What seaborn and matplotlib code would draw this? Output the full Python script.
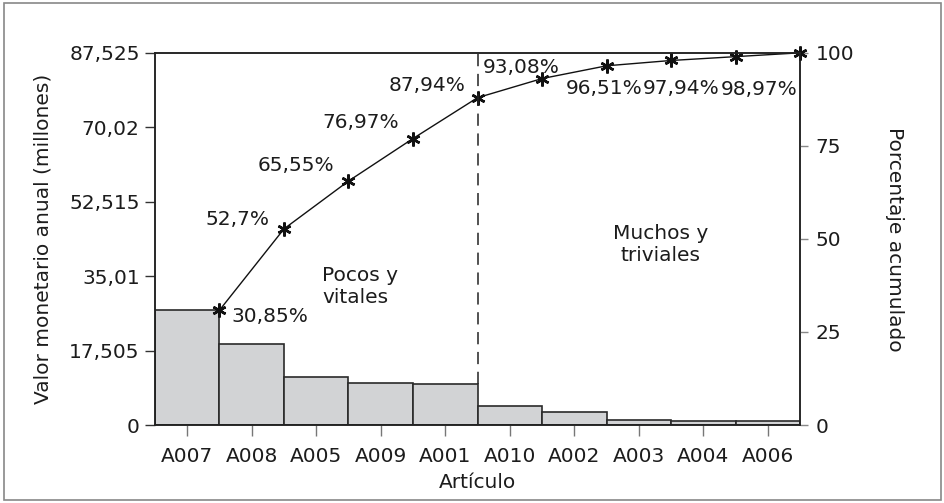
import matplotlib
matplotlib.use("Agg")
import matplotlib.pyplot as plt
import matplotlib.patches as mpatches
import matplotlib.ticker as mticker
import numpy as np
import pandas as pd
import seaborn as sns

# Pareto data: annual monetary value per item (millions) and cumulative share
articulos = ["A007", "A008", "A005", "A009", "A001", "A010", "A002", "A003", "A004", "A006"]
valor_anual = [27.00, 19.12, 11.25, 10.00, 9.60, 4.50, 3.00, 1.25, 0.90, 0.90]
porcentaje_acumulado = [30.85, 52.70, 65.55, 76.97, 87.94, 93.08, 96.51, 97.94, 98.97, 100.0]
etiquetas_pct = ["30,85%", "52,7%", "65,55%", "76,97%", "87,94%", "93,08%",
                 "96,51%", "97,94%", "98,97%", ""]
ticks_valor = [0, 17.505, 35.01, 52.515, 70.02, 87.525]
ticks_pct = [0, 25, 50, 75, 100]

sns.set_style("ticks")
TXT = "#1c1c1c"
plt.rcParams["font.family"] = ["DejaVu Sans"]
plt.rcParams.update({"axes.edgecolor": "#222222", "text.color": TXT,
                     "axes.labelcolor": TXT, "xtick.labelcolor": TXT,
                     "ytick.labelcolor": TXT})
FS = 14.5

fig = plt.figure(figsize=(9.45, 5.03), dpi=100)
fig.patches.append(mpatches.Rectangle((0.004, 0.006), 0.992, 0.988, transform=fig.transFigure,
                                      fill=False, edgecolor="#888888", linewidth=1.2))
ax = fig.add_axes([0.164, 0.155, 0.6826, 0.740])

df = pd.DataFrame({"articulo": articulos, "valor": valor_anual})
sns.barplot(data=df, x="articulo", y="valor", ax=ax, color="#d2d3d5", width=1.0,
            edgecolor="#2a2a2a", linewidth=1.2, saturation=1)

ax.set_xlim(-0.5, len(articulos) - 0.5)
ax.set_ylim(0, ticks_valor[-1])
ax.set_yticks(ticks_valor)
ax.yaxis.set_major_formatter(mticker.FuncFormatter(
    lambda v, _: ("%g" % round(v, 3)).replace(".", ",")))
ax.set_xlabel("Artículo", fontsize=FS, labelpad=5)
ax.set_ylabel("Valor monetario anual (millones)", fontsize=FS, labelpad=12)
ax.tick_params(axis="y", labelsize=FS, length=7, width=1, color="#333333", pad=4)
ax.tick_params(axis="x", labelsize=FS, length=8, width=1, color="#777777", pad=8)
for s in ax.spines.values():
    s.set_linewidth(1.1)

# Cumulative percentage curve on the secondary axis, plotted at the right edge of each bar
ax2 = ax.twinx()
pos = np.arange(len(articulos)) + 0.5
dfl = pd.DataFrame({"pos": pos, "pct": porcentaje_acumulado})
sns.lineplot(data=dfl, x="pos", y="pct", ax=ax2, color="#111111", linewidth=1.0,
             marker=(6, 2, 0), markersize=10, markeredgewidth=1.8,
             markeredgecolor="#111111", clip_on=False)
ax2.set_ylim(0, 100)
ax2.set_xlim(-0.5, len(articulos) - 0.5)
ax2.set_yticks(ticks_pct)
ax2.set_ylabel("Porcentaje acumulado", fontsize=FS, rotation=270, labelpad=36)
ax2.set_xlabel("")
ax2.tick_params(axis="y", labelsize=FS, length=6, width=1, color="#888888", pad=5)
for s in ax2.spines.values():
    s.set_linewidth(1.1)

# Divider between the vital few and the trivial many
corte = 4
ax2.plot([pos[corte], pos[corte]], [valor_anual[corte] / ticks_valor[-1] * 100, 100],
         color="#222222", linewidth=1.1, linestyle=(0, (8, 5)))

# Cumulative percentage labels
offsets = [(0.19, -1.8, "left"), (-0.22, 2.5, "right"), (-0.22, 4.1, "right"),
           (-0.21, 4.2, "right"), (-0.18, 3.3, "right"), (-0.92, 3.1, "left"),
           (-0.04, -6.2, "center"), (0.16, -7.6, "center"), (0.36, -8.7, "center")]
for i, (dx, dy, ha) in enumerate(offsets):
    ax2.text(pos[i] + dx, porcentaje_acumulado[i] + dy, etiquetas_pct[i],
             ha=ha, va="center", fontsize=FS)

ax2.text(2.09, 37.3, "Pocos y\nvitales", ha="left", va="center", fontsize=FS,
         linespacing=1.2)
ax2.text(7.34, 48.5, "Muchos y\ntriviales", ha="center", va="center", fontsize=FS,
         linespacing=1.2)

fig.savefig("out.png", dpi=100)
